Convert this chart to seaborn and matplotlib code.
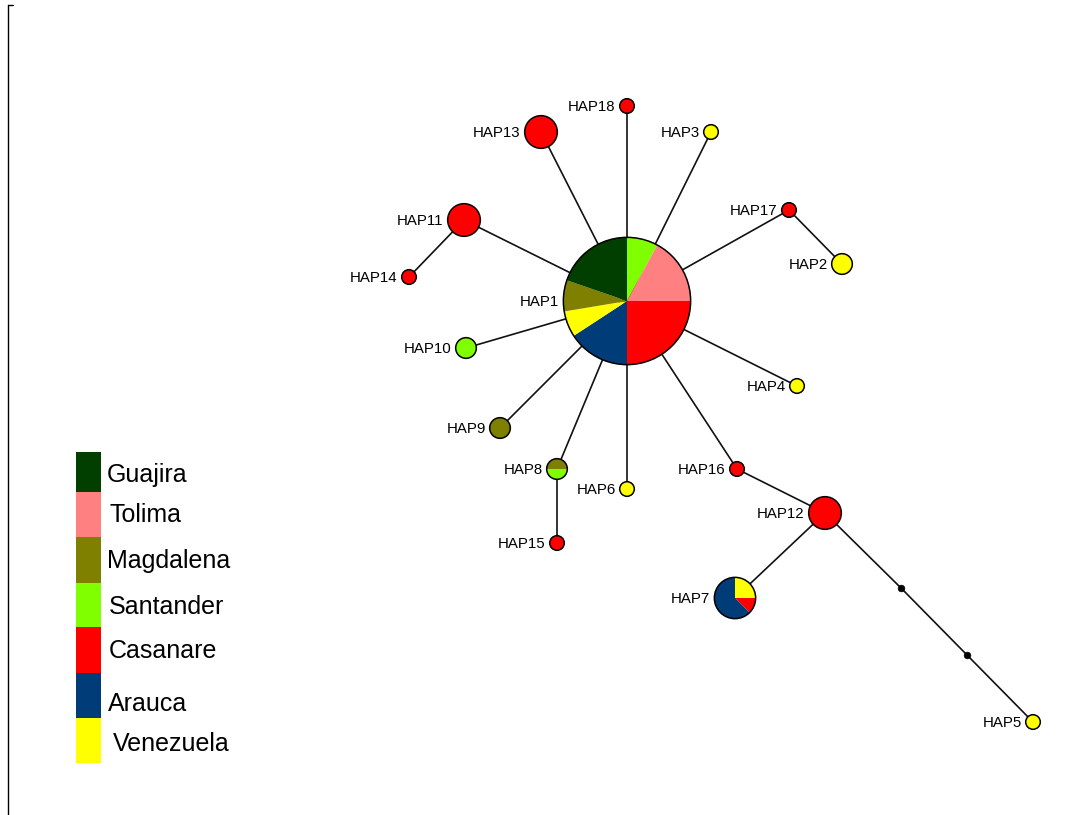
import matplotlib
matplotlib.use("Agg")
import matplotlib.pyplot as plt
import seaborn as sns
import pandas as pd
import numpy as np
from matplotlib.patches import Wedge, Circle, Rectangle
from matplotlib.lines import Line2D

# regions / colours
regions = ["Guajira", "Tolima", "Magdalena", "Santander", "Casanare", "Arauca", "Venezuela"]
region_colors = ["#003f00", "#ff8080", "#808000", "#80ff00", "#ff0000", "#003c78", "#ffff00"]

# haplotypes, network layout (pixel coords, y from top)
haps = ["HAP1", "HAP2", "HAP3", "HAP4", "HAP5", "HAP6", "HAP7", "HAP8", "HAP9",
        "HAP10", "HAP11", "HAP12", "HAP13", "HAP14", "HAP15", "HAP16", "HAP17", "HAP18"]
hap_x = [627, 842, 711, 797, 1033, 627, 735, 557, 500, 466, 464, 825, 541, 409, 557, 737, 789, 627]
hap_y = [301, 264, 132, 386, 722, 489, 598, 469, 428, 348, 220, 513, 132, 277, 543, 469, 210, 106]

# haplotype composition (clockwise from top)
composition = {
    "HAP1": [("Santander", 6), ("Tolima", 13), ("Casanare", 19), ("Arauca", 12),
             ("Venezuela", 5), ("Magdalena", 6), ("Guajira", 15)],
    "HAP2": [("Venezuela", 2)],
    "HAP3": [("Venezuela", 1)],
    "HAP4": [("Venezuela", 1)],
    "HAP5": [("Venezuela", 1)],
    "HAP6": [("Venezuela", 1)],
    "HAP7": [("Venezuela", 2), ("Casanare", 1), ("Arauca", 5)],
    "HAP8": [("Magdalena", 1), ("Santander", 1)],
    "HAP9": [("Magdalena", 2)],
    "HAP10": [("Santander", 2)],
    "HAP11": [("Casanare", 5)],
    "HAP12": [("Casanare", 5)],
    "HAP13": [("Casanare", 5)],
    "HAP14": [("Casanare", 1)],
    "HAP15": [("Casanare", 1)],
    "HAP16": [("Casanare", 1)],
    "HAP17": [("Casanare", 1)],
    "HAP18": [("Casanare", 1)],
}

# median vectors
mv_names = ["mv1", "mv2"]
mv_x = [901, 967]
mv_y = [588, 655]

edges = [("HAP1", "HAP18"), ("HAP1", "HAP13"), ("HAP1", "HAP3"), ("HAP1", "HAP11"),
         ("HAP11", "HAP14"), ("HAP1", "HAP17"), ("HAP17", "HAP2"), ("HAP1", "HAP10"),
         ("HAP1", "HAP4"), ("HAP1", "HAP9"), ("HAP1", "HAP8"), ("HAP8", "HAP15"),
         ("HAP1", "HAP6"), ("HAP1", "HAP16"), ("HAP16", "HAP12"), ("HAP12", "HAP7"),
         ("HAP12", "mv1"), ("mv1", "mv2"), ("mv2", "HAP5")]

W, H = 1092, 815
color_of = dict(zip(regions, region_colors))
pos = {n: (x, H - y) for n, x, y in zip(haps + mv_names, hap_x + mv_x, hap_y + mv_y)}

sns.set_theme(style="white")
plt.rcParams["font.family"] = ["Liberation Sans", "DejaVu Sans"]

fig = plt.figure(figsize=(W / 100, H / 100), dpi=100)
ax = fig.add_axes([0, 0, 1, 1])
ax.set_xlim(0, W)
ax.set_ylim(0, H)
ax.axis("off")

# links
for a, b in edges:
    ax.plot([pos[a][0], pos[b][0]], [pos[a][1], pos[b][1]], color="#111111", lw=1.2, zorder=1)

# median vectors
mv = pd.DataFrame({"x": [pos[m][0] for m in mv_names], "y": [pos[m][1] for m in mv_names]})
sns.scatterplot(data=mv, x="x", y="y", ax=ax, color="black", s=24, edgecolor="black", zorder=3, legend=False)
ax.set_xlabel("")
ax.set_ylabel("")

# nodes as pies
k = 7.3
for h in haps:
    cx, cy = pos[h]
    parts = composition[h]
    n = sum(c for _, c in parts)
    r = k * np.sqrt(n)
    start = 180 if h == "HAP8" else 90
    for reg, c in parts:
        span = 360 * c / n
        ax.add_patch(Wedge((cx, cy), r, start - span, start, facecolor=color_of[reg],
                           edgecolor="none", zorder=4))
        start -= span
    ax.add_patch(Circle((cx, cy), r, facecolor="none", edgecolor="black", lw=1.1, zorder=5))
    ax.text(cx - r - 4, cy - 5, h, ha="right", va="baseline", fontsize=10.8,
            color="#000000", zorder=6)

# legend
leg_top = [452, 492, 537, 583, 627, 673, 718]
leg_bot = [492, 537, 583, 627, 673, 718, 763]
leg_text_x = [107, 109, 107, 109, 109, 108, 113]
leg_base = [482, 522, 568, 614, 658, 711, 751]
for reg, t, b, tx, bl in zip(regions, leg_top, leg_bot, leg_text_x, leg_base):
    ax.add_patch(Rectangle((76, H - b), 25, b - t, facecolor=color_of[reg], edgecolor="none"))
    ax.text(tx, H - bl, reg, ha="left", va="baseline", fontsize=18, color="#000000")

# left frame line
fig.add_artist(Line2D([7.5 / W, 7.5 / W], [1 - 5 / H, 0], transform=fig.transFigure,
                      color="black", lw=1.0))
fig.add_artist(Line2D([7.5 / W, 12.5 / W], [1 - 5 / H, 1 - 5 / H], transform=fig.transFigure,
                      color="black", lw=1.0))

fig.savefig("out.png", dpi=100, facecolor="white")
